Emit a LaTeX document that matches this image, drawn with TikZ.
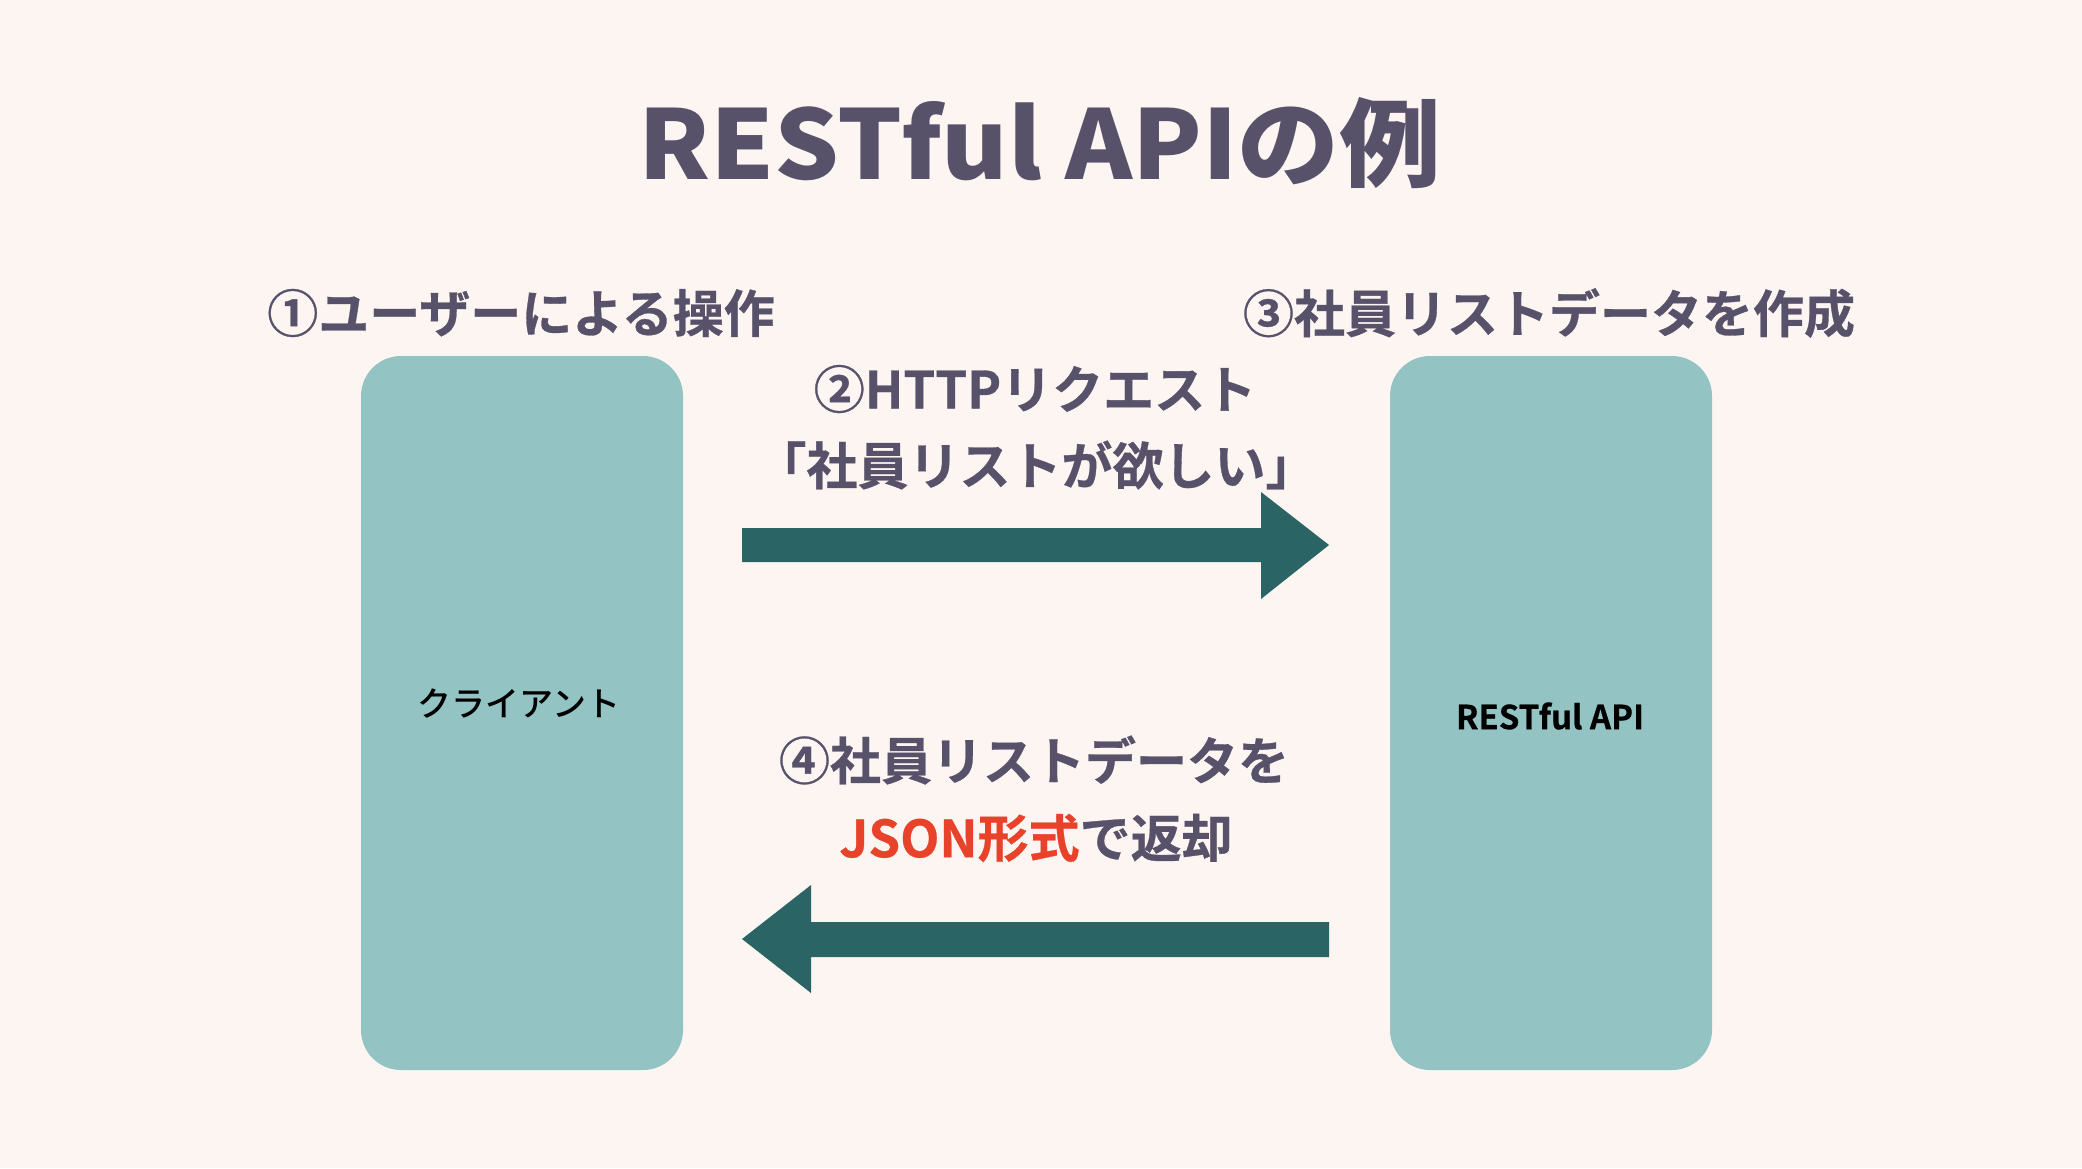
\documentclass[tikz,border=0pt]{standalone}
\usepackage{fontspec}
\newfontfamily\jp{Noto Sans CJK JP Medium}
\newfontfamily\jpb{Noto Sans CJK JP Bold}[FakeBold=0.6]
\newfontfamily\jpk{Noto Sans CJK JP Black}[FakeStretch=1.06]
\definecolor{bg}{HTML}{FCF5F2}
\definecolor{boxc}{HTML}{93C3C3}
\definecolor{arr}{HTML}{2A6465}
\definecolor{txt}{HTML}{58516A}
\definecolor{hl}{HTML}{E8432A}
\tikzset{
  panel/.style={fill=boxc, draw=none, rounded corners=40pt, minimum width=322pt, minimum height=714pt, inner sep=0pt},
  lbl/.style={text=txt, font=\jpb\fontsize{51}{60}\selectfont, inner sep=0pt, anchor=center},
  fatarrow/.style={fill=arr, draw=none}
}
\begin{document}
\begin{tikzpicture}[x=1pt,y=-1pt]
\fill[bg] (0,0) rectangle (2082,1168);
\useasboundingbox (0,0) rectangle (2082,1168);
\node[text=txt, font=\jpk\fontsize{96}{110}\selectfont, inner sep=0pt] (title) at (1040,143) {RESTful APIの例};
\node[panel] (client) at (522,713) {};
\node[panel] (api) at (1551,713) {};
\node[font=\jp\fontsize{34}{40}\selectfont, inner sep=0pt] (clientlbl) at (519,704) {クライアント};
\node[font=\jpb\fontsize{33}{40}\selectfont, inner sep=0pt] (apilbl) at (1550,716) {RESTful API};
\node[lbl] (l1) at (521,313) {①ユーザーによる操作};
\node[lbl] (l3) at (1549,313) {③社員リストデータを作成};
\node[lbl] (l2a) at (1035,389) {②HTTPリクエスト};
\node[lbl] (l2b) at (1036,465) {「社員リストが欲しい」};
\node[lbl] (l4a) at (1034,760) {④社員リストデータを};
\node[lbl] (l4b) at (1036,838) {{\color{hl}JSON形式}で返却};
% right arrow
\fill[fatarrow] (742,528) -- (1261,528) -- (1261,492) -- (1329,545) -- (1261,599) -- (1261,562) -- (742,562) -- cycle;
% left arrow
\fill[fatarrow] (1329,922) -- (811,922) -- (811,885) -- (742,939) -- (811,993) -- (811,957) -- (1329,957) -- cycle;
\end{tikzpicture}
\end{document}
